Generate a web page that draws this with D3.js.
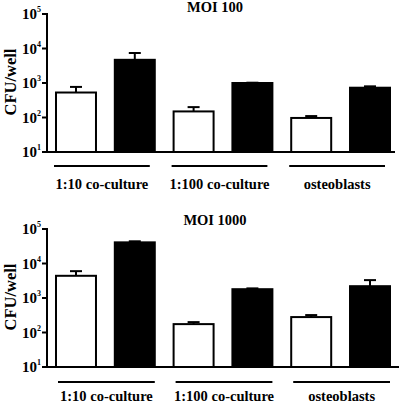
<!DOCTYPE html>
<html><head><meta charset="utf-8">
<script src="https://cdn.jsdelivr.net/npm/d3@7"></script>
<style>body{margin:0;background:#fff}svg{display:block}</style>
</head><body>
<svg id="c" width="400" height="403"></svg>
<script>
const groups = ["1:10 co-culture", "1:100 co-culture", "osteoblasts"];
const titles = ["MOI 100", "MOI 1000"];
const tickExps = [1, 2, 3, 4, 5];
// bar order: group1 white, group1 black, group2 white, ...
const moi100Values = [530, 4700, 150, 1000, 97, 730];
const moi100Errors = [770, 7400, 200, 1020, 110, 800];
const moi1000Values = [4400, 41000, 175, 1800, 280, 2200];
const moi1000Errors = [6000, 44000, 200, 1900, 320, 3300];
const fills = ["#fff", "#000", "#fff", "#000", "#fff", "#000"];

const svg = d3.select("#c");
const font = "'Liberation Serif','Times New Roman',serif";

function panel(yTop, yBot, axisEnd, title, titleY, values, errors, lineY, labelY, lineShift) {
  const g = svg.append("g");
  const y = d3.scaleLog().domain([10, 100000]).range([yBot, yTop]);
  const x = d3.scaleBand().domain(d3.range(6)).range([47, 399]).paddingInner(0.32).paddingOuter(0.153);
  // bars
  g.selectAll("rect.bar").data(values).join("rect")
    .attr("x", (d, i) => x(i)).attr("width", x.bandwidth())
    .attr("y", d => y(d)).attr("height", d => yBot - y(d))
    .attr("fill", (d, i) => fills[i]).attr("stroke", "#000").attr("stroke-width", 2);
  // error bars
  const eb = g.selectAll("g.eb").data(values.map((v, i) => ({v, e: errors[i], i}))).join("g");
  eb.append("line").attr("x1", d => x(d.i) + x.bandwidth() / 2).attr("x2", d => x(d.i) + x.bandwidth() / 2)
    .attr("y1", d => y(d.v)).attr("y2", d => y(d.e)).attr("stroke", "#000").attr("stroke-width", 2);
  eb.append("line").attr("x1", d => x(d.i) + x.bandwidth() / 2 - 6).attr("x2", d => x(d.i) + x.bandwidth() / 2 + 6)
    .attr("y1", d => y(d.e)).attr("y2", d => y(d.e)).attr("stroke", "#000").attr("stroke-width", 2);
  // axes
  g.append("line").attr("x1", 47).attr("x2", 47).attr("y1", yTop - 1).attr("y2", yBot + 1)
    .attr("stroke", "#000").attr("stroke-width", 2);
  g.append("line").attr("x1", 46).attr("x2", axisEnd).attr("y1", yBot).attr("y2", yBot)
    .attr("stroke", "#000").attr("stroke-width", 2);
  const ticks = g.selectAll("g.tk").data(tickExps).join("g")
    .attr("transform", d => `translate(0,${y(Math.pow(10, d))})`);
  ticks.append("line").attr("x1", 42).attr("x2", 47).attr("stroke", "#000").attr("stroke-width", 2);
  const tt = ticks.append("text").attr("x", 41).attr("y", 5).attr("text-anchor", "end")
    .attr("font-family", font).attr("font-weight", "bold").attr("font-size", 15);
  tt.append("tspan").text("10");
  tt.append("tspan").attr("dy", -7).attr("font-size", 8).text(d => d);
  // y label
  g.append("text").attr("transform", `translate(16,${(yTop + yBot) / 2 - 1}) rotate(-90)`)
    .attr("text-anchor", "middle").attr("font-family", font).attr("font-weight", "bold")
    .attr("font-size", 16.5).text("CFU/well");
  // title
  g.append("text").attr("x", 215).attr("y", titleY).attr("text-anchor", "middle")
    .attr("font-family", font).attr("font-weight", "bold").attr("font-size", 14.5).text(title);
  // group lines + labels
  groups.forEach((name, k) => {
    const x0 = x(2 * k) + lineShift[0];
    const x1 = x(2 * k + 1) + x.bandwidth() + lineShift[1];
    g.append("line").attr("x1", x0).attr("x2", x1).attr("y1", lineY).attr("y2", lineY)
      .attr("stroke", "#000").attr("stroke-width", 2);
    g.append("text").attr("x", (x0 + x1) / 2).attr("y", labelY).attr("text-anchor", "middle")
      .attr("font-family", font).attr("font-weight", "bold").attr("font-size", 14.5).text(name);
  });
}

panel(14, 152, 395, titles[0], 12, moi100Values, moi100Errors, 166, 189, [-2, -5]);
panel(229, 367, 399, titles[1], 225, moi1000Values, moi1000Errors, 382, 401, [2, 0]);
</script>
</body></html>
